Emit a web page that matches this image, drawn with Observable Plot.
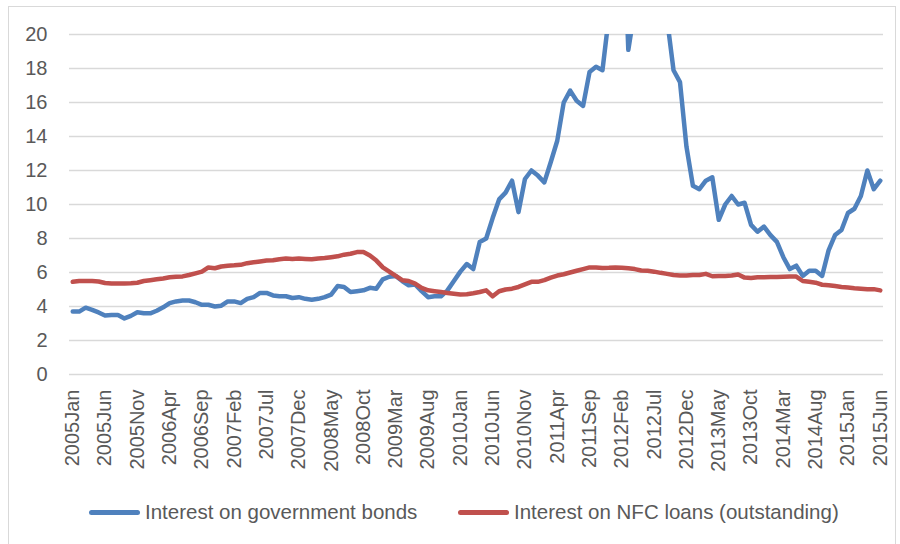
<!DOCTYPE html>
<html>
<head>
<meta charset="utf-8">
<script src="https://cdn.jsdelivr.net/npm/d3@7"></script>
<script src="https://cdn.jsdelivr.net/npm/@observablehq/plot@0.6"></script>
<style>
  html, body { margin: 0; padding: 0; background: #fff; }
  body { width: 900px; height: 544px; overflow: hidden; position: relative; font-family: "Liberation Sans", Arial, sans-serif; }
  #frame { position: absolute; left: 8px; top: 6px; width: 888px; height: 560px; border: 1px solid #d9d9d9; box-sizing: border-box; pointer-events: none; }
  #chart { position: absolute; left: 0; top: 0; }
  #legend { position: absolute; left: 0; top: 480px; width: 900px; height: 64px; }
  .sw { position: absolute; height: 5px; border-radius: 3px; top: 30px; }
  .lt { position: absolute; top: 19px; font-size: 20.5px; color: #595959; line-height: 26px; white-space: nowrap; }
</style>
</head>
<body>
<div id="chart"></div>
<div id="legend"></div>
<div id="frame"></div>
<script>
const years = [2005, 2006, 2007, 2008, 2009, 2010, 2011, 2012, 2013, 2014, 2015];
const monthNames = ["Jan","Feb","Mar","Apr","May","Jun","Jul","Aug","Sep","Oct","Nov","Dec"];
const months = [];
for (const y of years) for (const m of monthNames) { if (y === 2015 && monthNames.indexOf(m) > 5) break; months.push(y + m); }
const tickLabels = ["2005Jan","2005Jun","2005Nov","2006Apr","2006Sep","2007Feb","2007Jul","2007Dec","2008May","2008Oct","2009Mar","2009Aug","2010Jan","2010Jun","2010Nov","2011Apr","2011Sep","2012Feb","2012Jul","2012Dec","2013May","2013Oct","2014Mar","2014Aug","2015Jan","2015Jun"];
const yTicks = [0, 2, 4, 6, 8, 10, 12, 14, 16, 18, 20];
const seriesNames = ["Interest on government bonds", "Interest on NFC loans (outstanding)"];
const seriesColors = ["#4f81bd", "#c0504d"];

const bonds = [
  3.7, 3.7, 3.93, 3.8, 3.65, 3.47, 3.5, 3.5, 3.3, 3.45,
  3.66, 3.6, 3.6, 3.75, 3.95, 4.2, 4.3, 4.35, 4.35, 4.25,
  4.1, 4.1, 4.0, 4.05, 4.3, 4.3, 4.2, 4.45, 4.55, 4.8,
  4.8, 4.65, 4.6, 4.6, 4.5, 4.55, 4.45, 4.4, 4.45, 4.55,
  4.7, 5.2, 5.15, 4.85, 4.9, 4.95, 5.1, 5.05, 5.6, 5.75,
  5.8, 5.5, 5.25, 5.3, 4.9, 4.55, 4.6, 4.6, 4.95, 5.5,
  6.05, 6.5, 6.2, 7.8, 8.0, 9.2, 10.3, 10.7, 11.4, 9.55,
  11.5, 12.0, 11.7, 11.3, 12.5, 13.75, 16.0, 16.7, 16.1, 15.8,
  17.8, 18.1, 17.9, 21.1, 25.9, 29.2, 19.1, 21.5, 26.9, 27.8,
  25.8, 24.3, 20.9, 17.9, 17.2, 13.4, 11.1, 10.9, 11.4, 11.6,
  9.1, 10.0, 10.5, 10.0, 10.1, 8.8, 8.4, 8.7, 8.2, 7.8,
  6.9, 6.2, 6.4, 5.8, 6.1, 6.1, 5.8, 7.3, 8.2, 8.5,
  9.5, 9.75, 10.5, 12.0, 10.9, 11.4
];
const nfcLoans = [
  5.45, 5.5, 5.5, 5.5, 5.47, 5.38, 5.35, 5.35, 5.35, 5.37,
  5.4, 5.5, 5.55, 5.6, 5.65, 5.72, 5.75, 5.77, 5.85, 5.95,
  6.05, 6.3, 6.25, 6.35, 6.4, 6.42, 6.45, 6.55, 6.6, 6.65,
  6.7, 6.72, 6.78, 6.82, 6.8, 6.82, 6.8, 6.78, 6.82, 6.85,
  6.9, 6.95, 7.05, 7.1, 7.2, 7.2, 7.0, 6.7, 6.3, 6.05,
  5.8, 5.55, 5.5, 5.35, 5.1, 4.95, 4.9, 4.85, 4.8, 4.75,
  4.7, 4.72, 4.78, 4.85, 4.95, 4.6, 4.9, 5.0, 5.05, 5.15,
  5.3, 5.45, 5.45, 5.55, 5.7, 5.82, 5.9, 6.0, 6.1, 6.2,
  6.3, 6.3, 6.27, 6.28, 6.3, 6.28, 6.25, 6.2, 6.12, 6.1,
  6.05, 5.98, 5.92, 5.85, 5.83, 5.82, 5.85, 5.85, 5.92, 5.78,
  5.8, 5.8, 5.82, 5.88, 5.7, 5.68, 5.72, 5.72, 5.74, 5.74,
  5.75, 5.76, 5.76, 5.5, 5.45, 5.4, 5.28, 5.25, 5.2, 5.15,
  5.12, 5.08, 5.05, 5.02, 5.02, 4.95
];

const data = months.map((m, i) => ({ month: m, bonds: bonds[i], nfc: nfcLoans[i] }));

const chart = Plot.plot({
  width: 900,
  height: 480,
  marginLeft: 69,
  marginRight: 17,
  marginTop: 34,
  marginBottom: 106,
  style: { fontFamily: '"Liberation Sans", Arial, sans-serif', color: "#595959", background: "transparent" },
  x: { type: "point", domain: months, padding: 0.5, align: 0.5 },
  y: { domain: [0, 20] },
  marks: [
    Plot.gridY(yTicks, { stroke: "#d9d9d9", strokeOpacity: 1, strokeWidth: 1.5 }),
    Plot.axisY(yTicks, { tickSize: 0, tickPadding: 22, fontSize: 20, fill: "#595959", label: null }),
    Plot.axisX(tickLabels, { tickSize: 0, tickRotate: -90, tickPadding: 15, fontSize: 20, fill: "#595959", label: null }),
    Plot.lineY(data, { x: "month", y: "bonds", stroke: seriesColors[0], strokeWidth: 4.5, strokeLinejoin: "round", clip: true }),
    Plot.lineY(data, { x: "month", y: "nfc", stroke: seriesColors[1], strokeWidth: 4.5, strokeLinejoin: "round", clip: true })
  ]
});
document.getElementById("chart").appendChild(chart);

const legend = document.getElementById("legend");
const legendPos = [[89, 145], [458, 514]];
seriesNames.forEach((name, k) => {
  const sw = document.createElement("div");
  sw.className = "sw";
  sw.style.left = legendPos[k][0] + "px";
  sw.style.width = "51px";
  sw.style.background = seriesColors[k];
  legend.appendChild(sw);
  const t = document.createElement("div");
  t.className = "lt";
  t.style.left = legendPos[k][1] + "px";
  t.textContent = name;
  legend.appendChild(t);
});
</script>
</body>
</html>
